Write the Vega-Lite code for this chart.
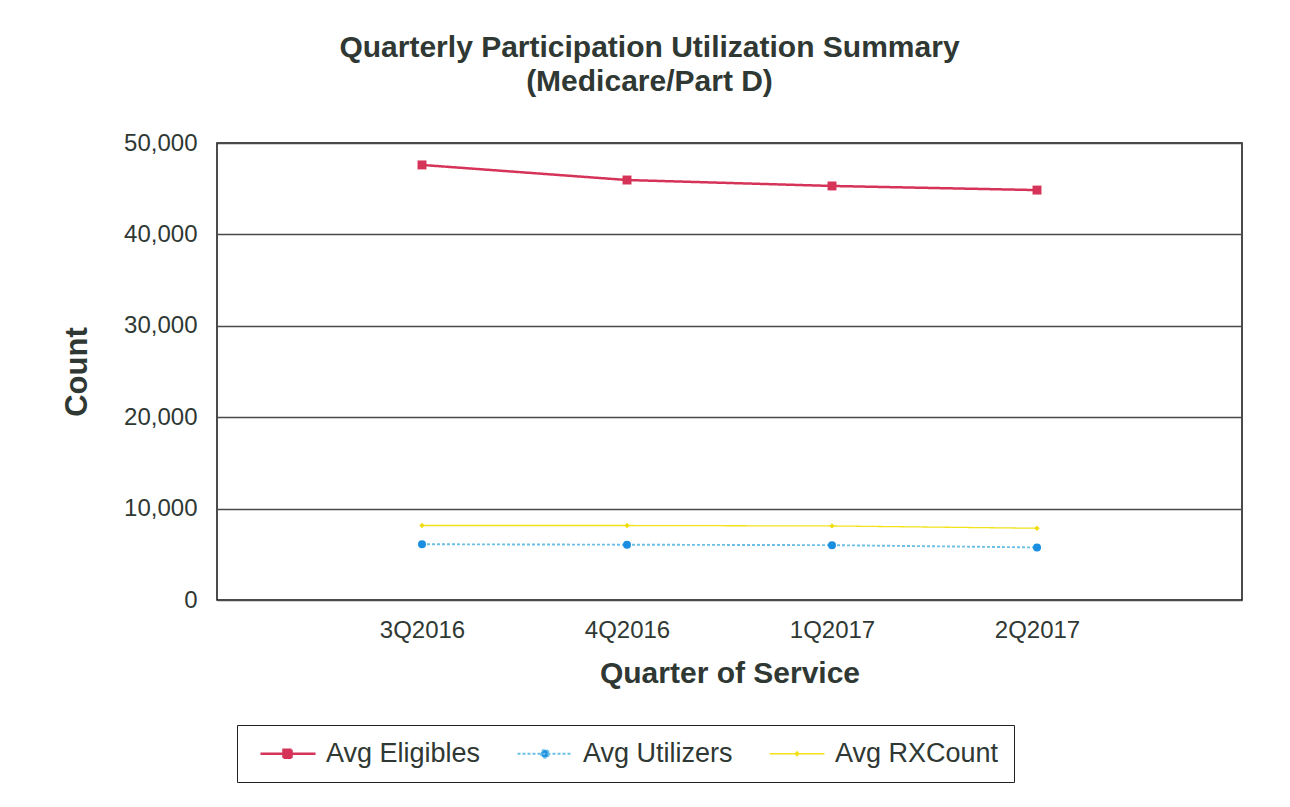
{
  "$schema": "https://vega.github.io/schema/vega-lite/v6.json",
  "autosize": "none",
  "width": 1025,
  "height": 457,
  "padding": {"left": 217, "top": 143, "right": 48, "bottom": 207},
  "background": "white",
  "title": {
    "text": ["Quarterly Participation Utilization Summary", "(Medicare/Part D)"],
    "font": "Liberation Sans",
    "fontSize": 30,
    "fontWeight": "bold",
    "color": "#2f3833",
    "anchor": "middle",
    "frame": "group",
    "dx": -80,
    "lineHeight": 34,
    "offset": 34
  },
  "config": {
    "view": {"stroke": "#111111", "strokeWidth": 1.5},
    "font": "Liberation Sans"
  },
  "data": {
    "values": [
      {"quarter": "3Q2016", "series": "Avg Eligibles", "value": 47600},
      {"quarter": "4Q2016", "series": "Avg Eligibles", "value": 45950},
      {"quarter": "1Q2017", "series": "Avg Eligibles", "value": 45300},
      {"quarter": "2Q2017", "series": "Avg Eligibles", "value": 44850},
      {"quarter": "3Q2016", "series": "Avg Utilizers", "value": 6100},
      {"quarter": "4Q2016", "series": "Avg Utilizers", "value": 6050},
      {"quarter": "1Q2017", "series": "Avg Utilizers", "value": 6000},
      {"quarter": "2Q2017", "series": "Avg Utilizers", "value": 5750},
      {"quarter": "3Q2016", "series": "Avg RXCount", "value": 8150},
      {"quarter": "4Q2016", "series": "Avg RXCount", "value": 8150},
      {"quarter": "1Q2017", "series": "Avg RXCount", "value": 8100},
      {"quarter": "2Q2017", "series": "Avg RXCount", "value": 7850}
    ]
  },
  "encoding": {
    "x": {
      "field": "quarter",
      "type": "ordinal",
      "sort": ["3Q2016", "4Q2016", "1Q2017", "2Q2017"],
      "scale": {"type": "point", "padding": 1},
      "axis": {
        "title": "Quarter of Service",
        "titleFont": "Liberation Sans",
        "titleFontSize": 30,
        "titleFontWeight": "bold",
        "titleColor": "#2f3833",
        "titlePadding": 16,
        "labelFont": "Liberation Sans",
        "labelFontSize": 24,
        "labelColor": "#2f3833",
        "labelAngle": 0,
        "labelPadding": 18,
        "ticks": false,
        "domain": false,
        "grid": false
      }
    },
    "y": {
      "field": "value",
      "type": "quantitative",
      "scale": {"domain": [0, 50000], "nice": false},
      "axis": {
        "title": "Count",
        "titleFont": "Liberation Sans",
        "titleFontSize": 31,
        "titleFontWeight": "bold",
        "titleColor": "#2f3833",
        "titlePadding": 30,
        "labelFont": "Liberation Sans",
        "labelFontSize": 24,
        "labelColor": "#2f3833",
        "labelPadding": 20,
        "values": [0, 10000, 20000, 30000, 40000, 50000],
        "format": ",d",
        "ticks": false,
        "domain": false,
        "grid": true,
        "gridColor": "#4a4a4a",
        "gridWidth": 1.3
      }
    }
  },
  "layer": [
    {
      "mark": {"type": "line", "interpolate": "linear"},
      "encoding": {
        "color": {
          "field": "series",
          "type": "nominal",
          "sort": ["Avg Eligibles", "Avg Utilizers", "Avg RXCount"],
          "scale": {
            "domain": ["Avg Eligibles", "Avg Utilizers", "Avg RXCount"],
            "range": ["#d63358", "#6cc0e6", "#f2e21a"]
          },
          "legend": {
            "title": null,
            "orient": "none",
            "legendX": 20,
            "legendY": 582,
            "direction": "horizontal",
            "strokeColor": "#222222",
            "padding": 15,
            "labelFont": "Liberation Sans",
            "labelFontSize": 27,
            "labelColor": "#2f3833",
            "labelLimit": 400,
            "labelOffset": 47,
            "columnPadding": 28,
            "symbolSize": 400,
            "symbolStrokeWidth": 2.5,
            "encode": {
              "symbols": {
                "update": {
                  "shape": {"signal": "datum.value == 'Avg Eligibles' ? 'M-0.5,0H5M1.8,-0.4H2.6V0.4H1.8Z' : datum.value == 'Avg Utilizers' ? 'M-0.5,0H5M2.65,0A0.4,0.4,0,1,1,1.85,0A0.4,0.4,0,1,1,2.65,0Z' : 'M-0.5,0H5M2.25,-0.2L2.45,0L2.25,0.2L2.05,0Z'"},
                  "fill": {"signal": "datum.value == 'Avg Eligibles' ? '#d63358' : datum.value == 'Avg Utilizers' ? '#1a8ee0' : '#f2e21a'"},
                  "stroke": {"signal": "datum.value == 'Avg Eligibles' ? '#d63358' : datum.value == 'Avg Utilizers' ? '#6cc0e6' : '#f2e21a'"},
                  "strokeWidth": {"signal": "datum.value == 'Avg Eligibles' ? 2.5 : datum.value == 'Avg Utilizers' ? 1.3 : 2"},
                  "strokeDash": {"signal": "datum.value == 'Avg Utilizers' ? [3, 2] : [1, 0]"}
                }
              }
            }
          }
        },
        "strokeDash": {
          "field": "series",
          "type": "nominal",
          "scale": {
            "domain": ["Avg Eligibles", "Avg Utilizers", "Avg RXCount"],
            "range": [[1, 0], [3, 2], [1, 0]]
          },
          "legend": null
        },
        "strokeWidth": {
          "field": "series",
          "type": "nominal",
          "scale": {
            "domain": ["Avg Eligibles", "Avg Utilizers", "Avg RXCount"],
            "range": [2.5, 1.3, 2.5]
          },
          "legend": null
        }
      }
    },
    {
      "transform": [{"filter": "datum.series == 'Avg Eligibles'"}],
      "mark": {"type": "point", "shape": "square", "filled": true, "opacity": 1, "color": "#d63358", "size": 80},
      "encoding": {}
    },
    {
      "transform": [{"filter": "datum.series == 'Avg Utilizers'"}],
      "mark": {"type": "point", "shape": "circle", "filled": true, "opacity": 1, "color": "#1a8ee0", "size": 64},
      "encoding": {}
    },
    {
      "transform": [{"filter": "datum.series == 'Avg RXCount'"}],
      "mark": {"type": "point", "shape": "diamond", "filled": true, "opacity": 1, "color": "#efdc10", "size": 28},
      "encoding": {}
    }
  ]
}
